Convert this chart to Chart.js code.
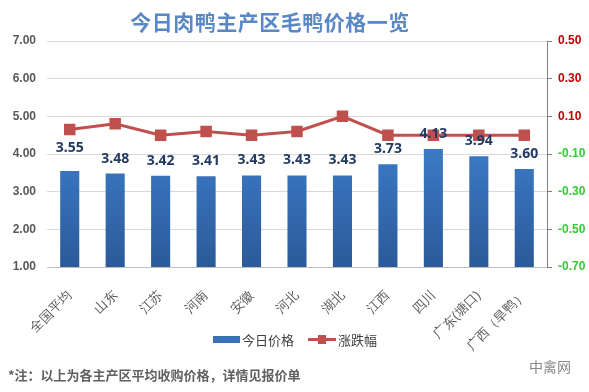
<!DOCTYPE html>
<html lang="zh">
<head>
<meta charset="UTF-8">
<title>今日肉鸭主产区毛鸭价格一览</title>
<style>
    html, body {
        margin: 0;
        padding: 0;
        background: #ffffff;
        font-family: "Noto Sans CJK SC", "Noto Sans", sans-serif;
    }
    .wrap {
        position: relative;
        width: 589px;
        height: 392px;
        overflow: hidden;
    }
    #chart {
        position: absolute;
        left: 0;
        top: 0;
    }
    .title {
        position: absolute;
        left: 0;
        width: 540px;
        top: 6px;
        text-align: center;
        font-size: 21px;
        font-weight: bold;
        color: #5a88c4;
        letter-spacing: 0.5px;
    }
    .legend {
        position: absolute;
        top: 330px;
        left: 213px;
        display: flex;
        align-items: center;
        font-size: 13px;
        color: #404040;
    }
    .legend .bar {
        width: 27px;
        height: 7px;
        background: #3a70b8;
        margin-right: 2px;
    }
    .legend .line {
        position: relative;
        width: 28px;
        height: 3px;
        background: #c0504d;
        margin-left: 14px;
        margin-right: 2px;
    }
    .legend .line:after {
        content: "";
        position: absolute;
        left: 10px;
        top: -3px;
        width: 8px;
        height: 9px;
        background: #c0504d;
    }
    .note {
        position: absolute;
        left: 8px;
        top: 365px;
        font-size: 13px;
        font-weight: bold;
        color: #606060;
    }
    .brand {
        position: absolute;
        left: 529px;
        top: 356px;
        font-size: 14px;
        color: #8a8a8a;
    }
</style>
<script src="https://cdn.jsdelivr.net/npm/chart.js"></script>
</head>
<body>
<div class="wrap">
    <canvas id="chart" width="589" height="392"></canvas>
    <div class="title">今日肉鸭主产区毛鸭价格一览</div>
    <div class="legend">
        <span class="bar"></span><span>今日价格</span>
        <span class="line"></span><span>涨跌幅</span>
    </div>
    <div class="note">*注：以上为各主产区平均收购价格，详情见报价单</div>
    <div class="brand">中禽网</div>
</div>

<script>
    const regions = ['全国平均', '山东', '江苏', '河南', '安徽', '河北', '湖北', '江西', '四川', '广东(塘口)', '广西（旱鸭）'];
    const prices = [3.55, 3.48, 3.42, 3.41, 3.43, 3.43, 3.43, 3.73, 4.13, 3.94, 3.60];
    const changes = [0.03, 0.06, 0.00, 0.02, 0.00, 0.02, 0.10, 0.00, 0.00, 0.00, 0.00];
    const priceTicks = [1, 2, 3, 4, 5, 6, 7];
    const changeTicks = [-0.7, -0.5, -0.3, -0.1, 0.1, 0.3, 0.5];

    // gradient for bars, light at top, darker at the base
    function barFill(ctx) {
        const area = ctx.chart.chartArea;
        if (!area) return '#3a70b8';
        const g = ctx.chart.ctx.createLinearGradient(0, area.top + 100, 0, area.bottom);
        g.addColorStop(0, '#3d7cc9');
        g.addColorStop(1, '#2b5a99');
        return g;
    }

    // value labels above bars
    const barLabels = {
        id: 'barLabels',
        afterDatasetsDraw(chart) {
            const meta = chart.getDatasetMeta(1);
            const c = chart.ctx;
            c.save();
            c.font = 'bold 14px "Noto Sans", sans-serif';
            c.fillStyle = '#233a63';
            c.textAlign = 'center';
            c.textBaseline = 'middle';
            meta.data.forEach((bar, i) => {
                c.fillText(prices[i].toFixed(2), bar.x, bar.y - (i === 0 ? 23 : 15));
            });
            c.restore();
        }
    };

    new Chart(document.getElementById('chart'), {
        data: {
            labels: regions,
            datasets: [{
                type: 'line',
                label: '涨跌幅',
                data: changes,
                yAxisID: 'y1',
                borderColor: '#c0504d',
                backgroundColor: '#c0504d',
                borderWidth: 3,
                pointStyle: 'rect',
                pointRadius: 6,
                pointHoverRadius: 6,
                tension: 0,
                order: 0
            }, {
                type: 'bar',
                label: '今日价格',
                data: prices,
                yAxisID: 'y',
                backgroundColor: barFill,
                categoryPercentage: 1,
                barPercentage: 0.42,
                order: 1
            }]
        },
        options: {
            responsive: false,
            animation: false,
            layout: { padding: { top: 41, bottom: 0, left: 0, right: 0 } },
            plugins: {
                legend: { display: false },
                tooltip: { enabled: false }
            },
            scales: {
                x: {
                    grid: { display: false },
                    border: { display: true, color: '#bfbfbf' },
                    ticks: {
                        maxRotation: 45,
                        minRotation: 45,
                        autoSkip: false,
                        color: '#595959',
                        font: { size: 13 },
                        padding: 13
                    },
                    afterFit(s) { s.height = 125; }
                },
                y: {
                    position: 'left',
                    min: 1,
                    max: 7,
                    afterBuildTicks(s) { s.ticks = priceTicks.map(v => ({ value: v })); },
                    grid: { color: '#d9d9d9', tickLength: 0 },
                    border: { display: false },
                    ticks: {
                        color: '#595959',
                        font: { size: 12, weight: 'bold' },
                        padding: 11,
                        callback: v => Number(v).toFixed(2)
                    },
                    afterFit(s) { s.width = 47; }
                },
                y1: {
                    position: 'right',
                    min: -0.7,
                    max: 0.5,
                    afterBuildTicks(s) { s.ticks = changeTicks.map(v => ({ value: v })); },
                    grid: { drawOnChartArea: false, color: '#7f7f7f', tickLength: 5 },
                    border: { display: true, color: '#7f7f7f' },
                    ticks: {
                        font: { size: 12, weight: 'bold' },
                        padding: 6,
                        color: ctx => ctx.tick.value > 0 ? '#c00000' : '#33cc33',
                        callback: v => Number(v).toFixed(2)
                    },
                    afterFit(s) { s.width = 42; }
                }
            }
        },
        plugins: [barLabels]
    });
</script>
</body>
</html>
